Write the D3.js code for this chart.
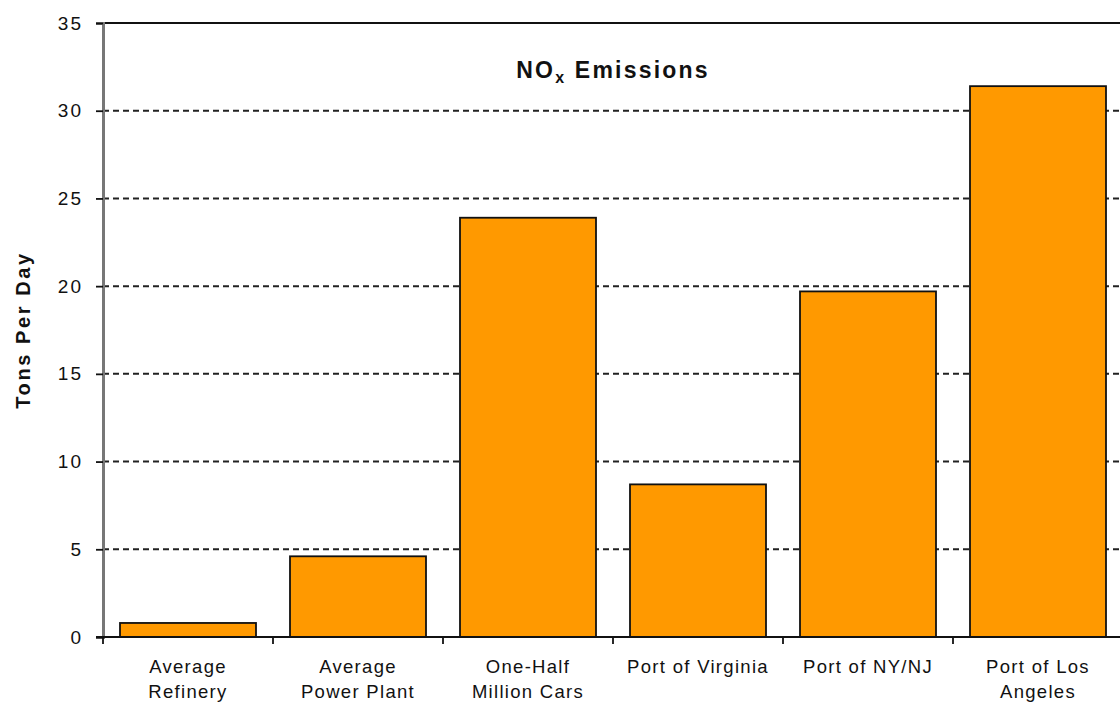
<!DOCTYPE html>
<html>
<head>
<meta charset="utf-8">
<script src="https://cdn.jsdelivr.net/npm/d3@7"></script>
<style>
  html, body { margin: 0; padding: 0; background: #fff; }
  svg { display: block; font-family: "Liberation Sans", Arial, sans-serif; }
</style>
</head>
<body>
<svg id="chart" width="1120" height="707"></svg>
<script>
// NOx emissions, tons per day
const categories = [
  ["Average", "Refinery"],
  ["Average", "Power Plant"],
  ["One-Half", "Million Cars"],
  ["Port of Virginia"],
  ["Port of NY/NJ"],
  ["Port of Los", "Angeles"]
];
const values = [0.8, 4.6, 23.9, 8.7, 19.7, 31.4];
const yTicks = [0, 5, 10, 15, 20, 25, 30, 35];

const svg = d3.select("#chart");
const margin = { left: 103, right: -3, top: 23, bottom: 70 };
const W = 1120, H = 707;

const keys = categories.map(c => c.join(" "));
const x = d3.scaleBand()
  .domain(keys)
  .range([margin.left, W - margin.right])
  .paddingInner(0.2)
  .paddingOuter(0.1);
const y = d3.scaleLinear()
  .domain([0, 35])
  .range([H - margin.bottom, margin.top]);

const x0 = margin.left, x1 = W - margin.right;

// dashed gridlines
svg.append("g")
  .selectAll("line")
  .data(yTicks.filter(t => t > 0 && t < 35))
  .join("line")
  .attr("x1", x0).attr("x2", x1)
  .attr("y1", d => y(d)).attr("y2", d => y(d))
  .attr("stroke", "#222")
  .attr("stroke-width", 2)
  .attr("stroke-dasharray", "6,4");

// top border of plot area
svg.append("line")
  .attr("x1", x0).attr("x2", x1)
  .attr("y1", y(35)).attr("y2", y(35))
  .attr("stroke", "#111").attr("stroke-width", 1.8);

// bars
svg.append("g")
  .selectAll("rect")
  .data(values)
  .join("rect")
  .attr("x", (d, i) => x(keys[i]))
  .attr("width", x.bandwidth())
  .attr("y", d => y(d))
  .attr("height", d => y(0) - y(d))
  .attr("fill", "#FF9900")
  .attr("stroke", "#111")
  .attr("stroke-width", 1.8);

// y axis
const yAxis = d3.axisLeft(y).tickValues(yTicks).tickSize(7).tickPadding(13);
const gy = svg.append("g")
  .attr("transform", `translate(${x0},0)`)
  .call(yAxis);
gy.select(".domain").attr("stroke", "#777").attr("stroke-width", 3);
gy.selectAll(".tick line").attr("stroke", "#111").attr("stroke-width", 1.8);
gy.selectAll(".tick text")
  .attr("font-size", 19)
  .attr("fill", "#111")
  .style("letter-spacing", "2px")
  .style("font-family", "'Liberation Sans', Arial, sans-serif");

// x axis baseline and category ticks at band boundaries
const step = x.step();
const boundaries = keys.map(k => x(k) - step * x.paddingInner() / 2).concat([x1]);
svg.append("line")
  .attr("x1", x0 - 7).attr("x2", x1)
  .attr("y1", y(0)).attr("y2", y(0))
  .attr("stroke", "#111").attr("stroke-width", 1.8);
svg.append("g")
  .selectAll("line")
  .data(boundaries)
  .join("line")
  .attr("x1", d => d).attr("x2", d => d)
  .attr("y1", y(0)).attr("y2", y(0) + 7)
  .attr("stroke", "#111").attr("stroke-width", 1.8);

// category labels
const lab = svg.append("g")
  .selectAll("text")
  .data(categories)
  .join("text")
  .attr("text-anchor", "middle")
  .attr("font-size", 18.5)
  .attr("fill", "#111")
  .style("letter-spacing", "1.3px")
  .attr("x", (d, i) => x(keys[i]) + x.bandwidth() / 2)
  .attr("y", y(0) + 36);
lab.selectAll("tspan")
  .data(d => d)
  .join("tspan")
  .attr("x", function () { return d3.select(this.parentNode).attr("x"); })
  .attr("dy", (d, i) => i === 0 ? 0 : 25)
  .text(d => d);

// title
const title = svg.append("text")
  .attr("x", (x0 + x1) / 2)
  .attr("y", 78)
  .attr("text-anchor", "middle")
  .attr("font-size", 23)
  .attr("font-weight", "bold")
  .attr("fill", "#111")
  .style("letter-spacing", "2.2px");
title.append("tspan").text("NO");
title.append("tspan").attr("font-size", 16).attr("dy", 5).text("x");
title.append("tspan").attr("dy", -5).text(" Emissions");

// y axis title
svg.append("text")
  .attr("transform", `translate(30,${(y(0) + y(35)) / 2}) rotate(-90)`)
  .attr("text-anchor", "middle")
  .attr("font-size", 20)
  .attr("font-weight", "bold")
  .attr("fill", "#111")
  .style("letter-spacing", "2.6px")
  .text("Tons Per Day");
</script>
</body>
</html>
